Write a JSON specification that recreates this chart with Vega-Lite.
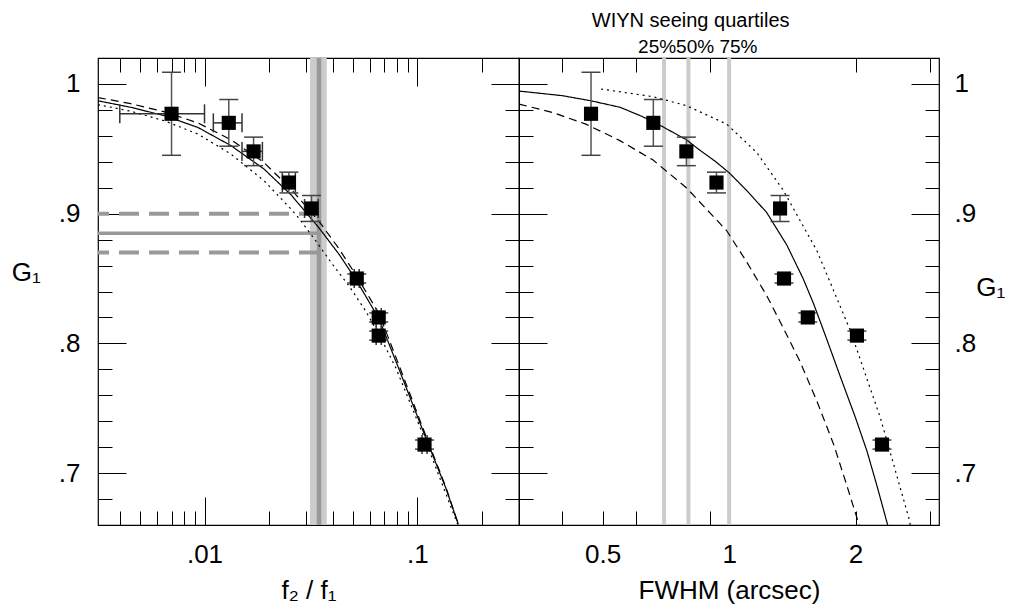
{
  "$schema": "https://vega.github.io/schema/vega-lite/v6.json",
  "background": "white",
  "padding": {"left": 10, "top": 10, "right": 0, "bottom": 0},
  "bounds": "flush",
  "spacing": 0,
  "datasets": {
    "points": [
      {"ratio": 0.0070, "ratio_lo": 0.0040, "ratio_hi": 0.0100, "fwhm": 0.469, "G": 0.977, "G_lo": 0.945, "G_hi": 1.009},
      {"ratio": 0.0130, "ratio_lo": 0.0110, "ratio_hi": 0.0150, "fwhm": 0.660, "G": 0.970, "G_lo": 0.952, "G_hi": 0.988},
      {"ratio": 0.0170, "ratio_lo": 0.0150, "ratio_hi": 0.0187, "fwhm": 0.791, "G": 0.948, "G_lo": 0.937, "G_hi": 0.959},
      {"ratio": 0.0249, "ratio_lo": 0.0232, "ratio_hi": 0.0267, "fwhm": 0.933, "G": 0.924, "G_lo": 0.916, "G_hi": 0.932},
      {"ratio": 0.0318, "ratio_lo": 0.0295, "ratio_hi": 0.0342, "fwhm": 1.322, "G": 0.904, "G_lo": 0.894, "G_hi": 0.914},
      {"ratio": 0.0519, "ratio_lo": 0.0505, "ratio_hi": 0.0533, "fwhm": 1.351, "G": 0.850, "G_lo": 0.8465, "G_hi": 0.8535},
      {"ratio": 0.0658, "ratio_lo": 0.0640, "ratio_hi": 0.0676, "fwhm": 1.539, "G": 0.820, "G_lo": 0.8165, "G_hi": 0.8235},
      {"ratio": 0.0658, "ratio_lo": 0.0640, "ratio_hi": 0.0676, "fwhm": 2.015, "G": 0.806, "G_lo": 0.8025, "G_hi": 0.8095},
      {"ratio": 0.1080, "ratio_lo": 0.1051, "ratio_hi": 0.1110, "fwhm": 2.312, "G": 0.722, "G_lo": 0.7185, "G_hi": 0.7255}
    ],
    "band": [{"f_lo": 0.0313, "f_hi": 0.0375, "f_mid": 0.0345}],
    "levels": [
      {"G": 0.900, "kind": "dashed"},
      {"G": 0.885, "kind": "solid"},
      {"G": 0.870, "kind": "dashed"}
    ],
    "quartiles": [
      {"quartile": "25%", "fwhm": 0.70},
      {"quartile": "50%", "fwhm": 0.80},
      {"quartile": "75%", "fwhm": 1.00}
    ],
    "leftCurves": [
      {"curve": "solid", "ratio": 0.00316, "G": 0.987},
      {"curve": "solid", "ratio": 0.0045, "G": 0.982},
      {"curve": "solid", "ratio": 0.0065, "G": 0.9755},
      {"curve": "solid", "ratio": 0.0093, "G": 0.9665},
      {"curve": "solid", "ratio": 0.0133, "G": 0.9525},
      {"curve": "solid", "ratio": 0.019, "G": 0.9345},
      {"curve": "solid", "ratio": 0.0255, "G": 0.9145},
      {"curve": "solid", "ratio": 0.0345, "G": 0.889},
      {"curve": "solid", "ratio": 0.0428, "G": 0.8688},
      {"curve": "solid", "ratio": 0.0513, "G": 0.8495},
      {"curve": "solid", "ratio": 0.066, "G": 0.819},
      {"curve": "solid", "ratio": 0.082, "G": 0.780},
      {"curve": "solid", "ratio": 0.1094, "G": 0.7273},
      {"curve": "solid", "ratio": 0.1358, "G": 0.6887},
      {"curve": "solid", "ratio": 0.1557, "G": 0.6605},
      {"curve": "dashed", "ratio": 0.00316, "G": 0.9895},
      {"curve": "dashed", "ratio": 0.0045, "G": 0.9848},
      {"curve": "dashed", "ratio": 0.0065, "G": 0.9785},
      {"curve": "dashed", "ratio": 0.0093, "G": 0.970},
      {"curve": "dashed", "ratio": 0.0133, "G": 0.957},
      {"curve": "dashed", "ratio": 0.019, "G": 0.9395},
      {"curve": "dashed", "ratio": 0.0255, "G": 0.919},
      {"curve": "dashed", "ratio": 0.0345, "G": 0.894},
      {"curve": "dashed", "ratio": 0.0428, "G": 0.873},
      {"curve": "dashed", "ratio": 0.0513, "G": 0.853},
      {"curve": "dashed", "ratio": 0.066, "G": 0.823},
      {"curve": "dashed", "ratio": 0.082, "G": 0.783},
      {"curve": "dashed", "ratio": 0.1094, "G": 0.729},
      {"curve": "dashed", "ratio": 0.1358, "G": 0.6895},
      {"curve": "dashed", "ratio": 0.1557, "G": 0.6605},
      {"curve": "dotted", "ratio": 0.00316, "G": 0.984},
      {"curve": "dotted", "ratio": 0.0045, "G": 0.979},
      {"curve": "dotted", "ratio": 0.0065, "G": 0.9715},
      {"curve": "dotted", "ratio": 0.0093, "G": 0.9614},
      {"curve": "dotted", "ratio": 0.0133, "G": 0.946},
      {"curve": "dotted", "ratio": 0.019, "G": 0.9255},
      {"curve": "dotted", "ratio": 0.0255, "G": 0.9035},
      {"curve": "dotted", "ratio": 0.02775, "G": 0.8965},
      {"curve": "dotted", "ratio": 0.03325, "G": 0.8792},
      {"curve": "dotted", "ratio": 0.0398, "G": 0.8612},
      {"curve": "dotted", "ratio": 0.0477, "G": 0.8444},
      {"curve": "dotted", "ratio": 0.0571, "G": 0.8251},
      {"curve": "dotted", "ratio": 0.0684, "G": 0.8019},
      {"curve": "dotted", "ratio": 0.0791, "G": 0.7813},
      {"curve": "dotted", "ratio": 0.1094, "G": 0.7245},
      {"curve": "dotted", "ratio": 0.1545, "G": 0.6605}
    ],
    "rightCurves": [
      {"curve": "solid", "fwhm": 0.316, "G": 0.9945},
      {"curve": "solid", "fwhm": 0.40, "G": 0.991},
      {"curve": "solid", "fwhm": 0.469, "G": 0.987},
      {"curve": "solid", "fwhm": 0.55, "G": 0.982},
      {"curve": "solid", "fwhm": 0.62, "G": 0.975},
      {"curve": "solid", "fwhm": 0.695, "G": 0.967},
      {"curve": "solid", "fwhm": 0.791, "G": 0.957},
      {"curve": "solid", "fwhm": 0.851, "G": 0.949},
      {"curve": "solid", "fwhm": 0.93, "G": 0.940},
      {"curve": "solid", "fwhm": 1.004, "G": 0.931},
      {"curve": "solid", "fwhm": 1.1, "G": 0.918},
      {"curve": "solid", "fwhm": 1.228, "G": 0.901},
      {"curve": "solid", "fwhm": 1.371, "G": 0.876},
      {"curve": "solid", "fwhm": 1.5, "G": 0.850},
      {"curve": "solid", "fwhm": 1.587, "G": 0.831},
      {"curve": "solid", "fwhm": 1.7, "G": 0.805},
      {"curve": "solid", "fwhm": 1.839, "G": 0.7745},
      {"curve": "solid", "fwhm": 2.0, "G": 0.7425},
      {"curve": "solid", "fwhm": 2.129, "G": 0.717},
      {"curve": "solid", "fwhm": 2.25, "G": 0.690},
      {"curve": "solid", "fwhm": 2.385, "G": 0.660},
      {"curve": "dashed", "fwhm": 0.316, "G": 0.9845},
      {"curve": "dashed", "fwhm": 0.38, "G": 0.978},
      {"curve": "dashed", "fwhm": 0.456, "G": 0.969},
      {"curve": "dashed", "fwhm": 0.548, "G": 0.9565},
      {"curve": "dashed", "fwhm": 0.658, "G": 0.9415},
      {"curve": "dashed", "fwhm": 0.791, "G": 0.920},
      {"curve": "dashed", "fwhm": 0.986, "G": 0.887},
      {"curve": "dashed", "fwhm": 1.1, "G": 0.863},
      {"curve": "dashed", "fwhm": 1.228, "G": 0.837},
      {"curve": "dashed", "fwhm": 1.35, "G": 0.811},
      {"curve": "dashed", "fwhm": 1.475, "G": 0.786},
      {"curve": "dashed", "fwhm": 1.62, "G": 0.755},
      {"curve": "dashed", "fwhm": 1.772, "G": 0.7225},
      {"curve": "dashed", "fwhm": 1.9, "G": 0.692},
      {"curve": "dashed", "fwhm": 2.04, "G": 0.660},
      {"curve": "dotted", "fwhm": 0.4955, "G": 0.9961},
      {"curve": "dotted", "fwhm": 0.658, "G": 0.9902},
      {"curve": "dotted", "fwhm": 0.791, "G": 0.9833},
      {"curve": "dotted", "fwhm": 0.986, "G": 0.9691},
      {"curve": "dotted", "fwhm": 1.163, "G": 0.9472},
      {"curve": "dotted", "fwhm": 1.346, "G": 0.918},
      {"curve": "dotted", "fwhm": 1.618, "G": 0.8714},
      {"curve": "dotted", "fwhm": 1.943, "G": 0.810},
      {"curve": "dotted", "fwhm": 2.291, "G": 0.7427},
      {"curve": "dotted", "fwhm": 2.677, "G": 0.6656},
      {"curve": "dotted", "fwhm": 2.70, "G": 0.660}
    ],
    "titleRow": [{"label": "WIYN seeing quartiles", "pct": "25%50% 75%"}]
  },
  "hconcat": [
    {
      "width": 421,
      "height": 467,
      "resolve": {"axis": {"x": "independent", "y": "independent"}},
      "layer": [
        {
          "data": {"name": "band"},
          "mark": {"type": "rect", "color": "#cccccc"},
          "encoding": {
            "x": {"field": "f_lo", "type": "quantitative", "scale": {"type": "log", "domain": [0.00316, 0.3], "nice": false},
              "axis": {"orient": "bottom", "values": [0.01, 0.1], "labelExpr": "replace(format(datum.value, '~g'), '0.', '.')", "ticks": false, "tickSize": 0, "labelPadding": 16, "title": "f₂ / f₁", "titlePadding": 10}},
            "x2": {"field": "f_hi"}
          }
        },
        {
          "data": {"name": "band"},
          "mark": {"type": "rule", "color": "#999999", "strokeWidth": 4.5},
          "encoding": {
            "x": {"field": "f_mid", "type": "quantitative", "scale": {"type": "log", "domain": [0.00316, 0.3], "nice": false},
              "axis": {"orient": "bottom", "values": [0.01, 0.1], "tickSize": -28, "labels": false, "title": null}}
          }
        },
        {
          "data": {"name": "levels"},
          "transform": [{"filter": "datum.kind == 'dashed'"}],
          "mark": {"type": "rule", "color": "#999999", "strokeWidth": 4, "strokeDash": [20, 10], "strokeDashOffset": 9},
          "encoding": {
            "y": {"field": "G", "type": "quantitative", "scale": {"domain": [0.66, 1.02], "nice": false, "zero": false},
              "axis": {"orient": "left", "values": [0.7, 0.8, 0.9, 1], "labelExpr": "replace(format(datum.value, '~g'), '0.', '.')", "ticks": false, "tickSize": 0, "labelPadding": 18, "title": "G₁", "titleAngle": 0, "titleAlign": "right", "titleBaseline": "bottom", "titleY": 227, "titlePadding": 18}},
            "x": {"datum": 0.00316, "type": "quantitative", "scale": {"type": "log", "domain": [0.00316, 0.3], "nice": false},
              "axis": {"orient": "bottom", "values": [0.004, 0.005, 0.006, 0.007, 0.008, 0.009, 0.02, 0.03, 0.04, 0.05, 0.06, 0.07, 0.08, 0.09, 0.2], "tickSize": -14, "labels": false, "title": null}},
            "x2": {"datum": 0.0345}
          }
        },
        {
          "data": {"name": "levels"},
          "transform": [{"filter": "datum.kind == 'solid'"}],
          "mark": {"type": "rule", "color": "#999999", "strokeWidth": 3.5},
          "encoding": {
            "y": {"field": "G", "type": "quantitative", "scale": {"domain": [0.66, 1.02], "nice": false, "zero": false},
              "axis": {"orient": "left", "values": [0.7, 0.8, 0.9, 1], "tickSize": -28, "labels": false, "title": null}},
            "x": {"datum": 0.00316, "type": "quantitative", "scale": {"type": "log", "domain": [0.00316, 0.3], "nice": false},
              "axis": {"orient": "top", "values": [0.01, 0.1], "tickSize": -28, "labels": false, "title": null}},
            "x2": {"datum": 0.0345}
          }
        },
        {
          "data": {"name": "leftCurves"},
          "mark": {"type": "line", "color": "black", "strokeWidth": 1.2},
          "encoding": {
            "x": {"field": "ratio", "type": "quantitative", "scale": {"type": "log", "domain": [0.00316, 0.3], "nice": false},
              "axis": {"orient": "top", "values": [0.004, 0.005, 0.006, 0.007, 0.008, 0.009, 0.02, 0.03, 0.04, 0.05, 0.06, 0.07, 0.08, 0.09, 0.2], "tickSize": -14, "labels": false, "title": null}},
            "y": {"field": "G", "type": "quantitative", "scale": {"domain": [0.66, 1.02], "nice": false, "zero": false},
              "axis": {"orient": "left", "values": [0.68, 0.72, 0.74, 0.76, 0.78, 0.82, 0.84, 0.86, 0.88, 0.92, 0.94, 0.96, 0.98], "tickSize": -14, "labels": false, "title": null}},
            "strokeDash": {"field": "curve", "type": "nominal", "scale": {"domain": ["solid", "dashed", "dotted"], "range": [[1, 0], [8, 5], [2, 4]]}, "legend": null}
          }
        },
        {
          "data": {"name": "points"},
          "mark": {"type": "rule", "color": "#333333", "strokeWidth": 1.5},
          "encoding": {
            "x": {"field": "ratio_lo", "type": "quantitative", "scale": {"type": "log", "domain": [0.00316, 0.3], "nice": false}, "axis": null},
            "x2": {"field": "ratio_hi"},
            "y": {"field": "G", "type": "quantitative", "scale": {"domain": [0.66, 1.02], "nice": false, "zero": false},
              "axis": {"orient": "right", "values": [0.7, 0.8, 0.9, 1], "tickSize": -28, "labels": false, "title": null}}
          }
        },
        {
          "data": {"name": "points"},
          "transform": [{"fold": ["ratio_lo", "ratio_hi"], "as": ["end", "ratio_end"]}],
          "mark": {"type": "tick", "orient": "vertical", "color": "#333333", "size": 19, "thickness": 1.5, "opacity": 1},
          "encoding": {
            "x": {"field": "ratio_end", "type": "quantitative", "scale": {"type": "log", "domain": [0.00316, 0.3], "nice": false}, "axis": null},
            "y": {"field": "G", "type": "quantitative", "scale": {"domain": [0.66, 1.02], "nice": false, "zero": false},
              "axis": {"orient": "right", "values": [0.68, 0.72, 0.74, 0.76, 0.78, 0.82, 0.84, 0.86, 0.88, 0.92, 0.94, 0.96, 0.98], "tickSize": -14, "labels": false, "title": null}}
          }
        },
        {
          "data": {"name": "points"},
          "mark": {"type": "rule", "color": "#555555", "strokeWidth": 1.5},
          "encoding": {
            "x": {"field": "ratio", "type": "quantitative", "scale": {"type": "log", "domain": [0.00316, 0.3], "nice": false}, "axis": null},
            "y": {"field": "G_lo", "type": "quantitative", "scale": {"domain": [0.66, 1.02], "nice": false, "zero": false}, "axis": null},
            "y2": {"field": "G_hi"}
          }
        },
        {
          "data": {"name": "points"},
          "transform": [{"fold": ["G_lo", "G_hi"], "as": ["end", "G_end"]}],
          "mark": {"type": "tick", "orient": "horizontal", "color": "#444444", "size": 19, "thickness": 1.5, "opacity": 1},
          "encoding": {
            "x": {"field": "ratio", "type": "quantitative", "scale": {"type": "log", "domain": [0.00316, 0.3], "nice": false}, "axis": null},
            "y": {"field": "G_end", "type": "quantitative", "scale": {"domain": [0.66, 1.02], "nice": false, "zero": false}, "axis": null}
          }
        },
        {
          "data": {"name": "points"},
          "mark": {"type": "point", "shape": "square", "filled": true, "size": 200, "color": "black", "opacity": 1, "strokeWidth": 0},
          "encoding": {
            "x": {"field": "ratio", "type": "quantitative", "scale": {"type": "log", "domain": [0.00316, 0.3], "nice": false}, "axis": null},
            "y": {"field": "G", "type": "quantitative", "scale": {"domain": [0.66, 1.02], "nice": false, "zero": false}, "axis": null}
          }
        }
      ]
    },
    {
      "width": 420,
      "height": 467,
      "resolve": {"axis": {"x": "independent", "y": "independent"}},
      "layer": [
        {
          "data": {"name": "quartiles"},
          "mark": {"type": "rule", "color": "#cccccc", "strokeWidth": 4},
          "encoding": {
            "x": {"field": "fwhm", "type": "quantitative", "scale": {"type": "log", "domain": [0.316, 3.16], "nice": false},
              "axis": {"orient": "bottom", "values": [0.5, 1, 2], "format": "~g", "ticks": false, "tickSize": 0, "labelPadding": 16, "title": "FWHM (arcsec)", "titlePadding": 10}}
          }
        },
        {
          "data": {"name": "rightCurves"},
          "mark": {"type": "line", "color": "black", "strokeWidth": 1.2},
          "encoding": {
            "x": {"field": "fwhm", "type": "quantitative", "scale": {"type": "log", "domain": [0.316, 3.16], "nice": false},
              "axis": {"orient": "bottom", "values": [1], "tickSize": -28, "labels": false, "title": null}},
            "y": {"field": "G", "type": "quantitative", "scale": {"domain": [0.66, 1.02], "nice": false, "zero": false},
              "axis": {"orient": "left", "values": [0.7, 0.8, 0.9, 1], "tickSize": -28, "labels": false, "title": null}},
            "strokeDash": {"field": "curve", "type": "nominal", "scale": {"domain": ["solid", "dashed", "dotted"], "range": [[1, 0], [9, 6], [2, 4]]}, "legend": null}
          }
        },
        {
          "data": {"name": "points"},
          "mark": {"type": "rule", "color": "#555555", "strokeWidth": 1.5},
          "encoding": {
            "x": {"field": "fwhm", "type": "quantitative", "scale": {"type": "log", "domain": [0.316, 3.16], "nice": false},
              "axis": {"orient": "bottom", "values": [0.4, 0.5, 0.6, 0.7, 0.8, 0.9, 2, 3], "tickSize": -14, "labels": false, "title": null}},
            "y": {"field": "G_lo", "type": "quantitative", "scale": {"domain": [0.66, 1.02], "nice": false, "zero": false},
              "axis": {"orient": "left", "values": [0.68, 0.72, 0.74, 0.76, 0.78, 0.82, 0.84, 0.86, 0.88, 0.92, 0.94, 0.96, 0.98], "tickSize": -14, "labels": false, "title": null}},
            "y2": {"field": "G_hi"}
          }
        },
        {
          "data": {"name": "points"},
          "transform": [{"fold": ["G_lo", "G_hi"], "as": ["end", "G_end"]}],
          "mark": {"type": "tick", "orient": "horizontal", "color": "#444444", "size": 19, "thickness": 1.5, "opacity": 1},
          "encoding": {
            "x": {"field": "fwhm", "type": "quantitative", "scale": {"type": "log", "domain": [0.316, 3.16], "nice": false},
              "axis": {"orient": "top", "values": [1], "tickSize": -28, "labels": false, "title": null}},
            "y": {"field": "G_end", "type": "quantitative", "scale": {"domain": [0.66, 1.02], "nice": false, "zero": false},
              "axis": {"orient": "right", "values": [0.7, 0.8, 0.9, 1], "labelExpr": "replace(format(datum.value, '~g'), '0.', '.')", "ticks": false, "tickSize": 0, "labelPadding": 15, "title": "G₁", "titleAngle": 0, "titleAlign": "left", "titleBaseline": "middle", "titleY": 229, "titlePadding": 0}}
          }
        },
        {
          "data": {"name": "points"},
          "mark": {"type": "point", "shape": "square", "filled": true, "size": 200, "color": "black", "opacity": 1, "strokeWidth": 0},
          "encoding": {
            "x": {"field": "fwhm", "type": "quantitative", "scale": {"type": "log", "domain": [0.316, 3.16], "nice": false},
              "axis": {"orient": "top", "values": [0.4, 0.5, 0.6, 0.7, 0.8, 0.9, 2, 3], "tickSize": -14, "labels": false, "title": null}},
            "y": {"field": "G", "type": "quantitative", "scale": {"domain": [0.66, 1.02], "nice": false, "zero": false},
              "axis": {"orient": "right", "values": [0.7, 0.8, 0.9, 1], "tickSize": -28, "labels": false, "title": null}}
          }
        },
        {
          "data": {"name": "titleRow"},
          "mark": {"type": "text", "font": "Liberation Sans", "fontSize": 20, "color": "black", "align": "center", "baseline": "alphabetic"},
          "encoding": {
            "text": {"field": "label"},
            "x": {"datum": 0.81, "type": "quantitative", "scale": {"type": "log", "domain": [0.316, 3.16], "nice": false}, "axis": null},
            "y": {"datum": 1.0439, "type": "quantitative", "scale": {"domain": [0.66, 1.02], "nice": false, "zero": false},
              "axis": {"orient": "right", "values": [0.68, 0.72, 0.74, 0.76, 0.78, 0.82, 0.84, 0.86, 0.88, 0.92, 0.94, 0.96, 0.98], "tickSize": -14, "labels": false, "title": null}}
          }
        },
        {
          "data": {"name": "titleRow"},
          "mark": {"type": "text", "font": "Liberation Sans", "fontSize": 19, "color": "black", "align": "center", "baseline": "alphabetic"},
          "encoding": {
            "text": {"field": "pct"},
            "x": {"datum": 0.842, "type": "quantitative", "scale": {"type": "log", "domain": [0.316, 3.16], "nice": false}, "axis": null},
            "y": {"datum": 1.0236, "type": "quantitative", "scale": {"domain": [0.66, 1.02], "nice": false, "zero": false}, "axis": null}
          }
        }
      ]
    }
  ],
  "config": {
    "font": "Liberation Sans",
    "view": {"stroke": "black", "strokeWidth": 1.2},
    "concat": {"spacing": 0},
    "axis": {
      "labelFont": "Liberation Sans", "labelFontSize": 26, "labelColor": "black",
      "titleFont": "Liberation Sans", "titleFontSize": 26, "titleFontWeight": "normal", "titleColor": "black",
      "tickColor": "black", "tickWidth": 1, "grid": false, "domain": false,
      "labelFlush": false, "labelOverlap": false, "labelBound": false
    }
  }
}
